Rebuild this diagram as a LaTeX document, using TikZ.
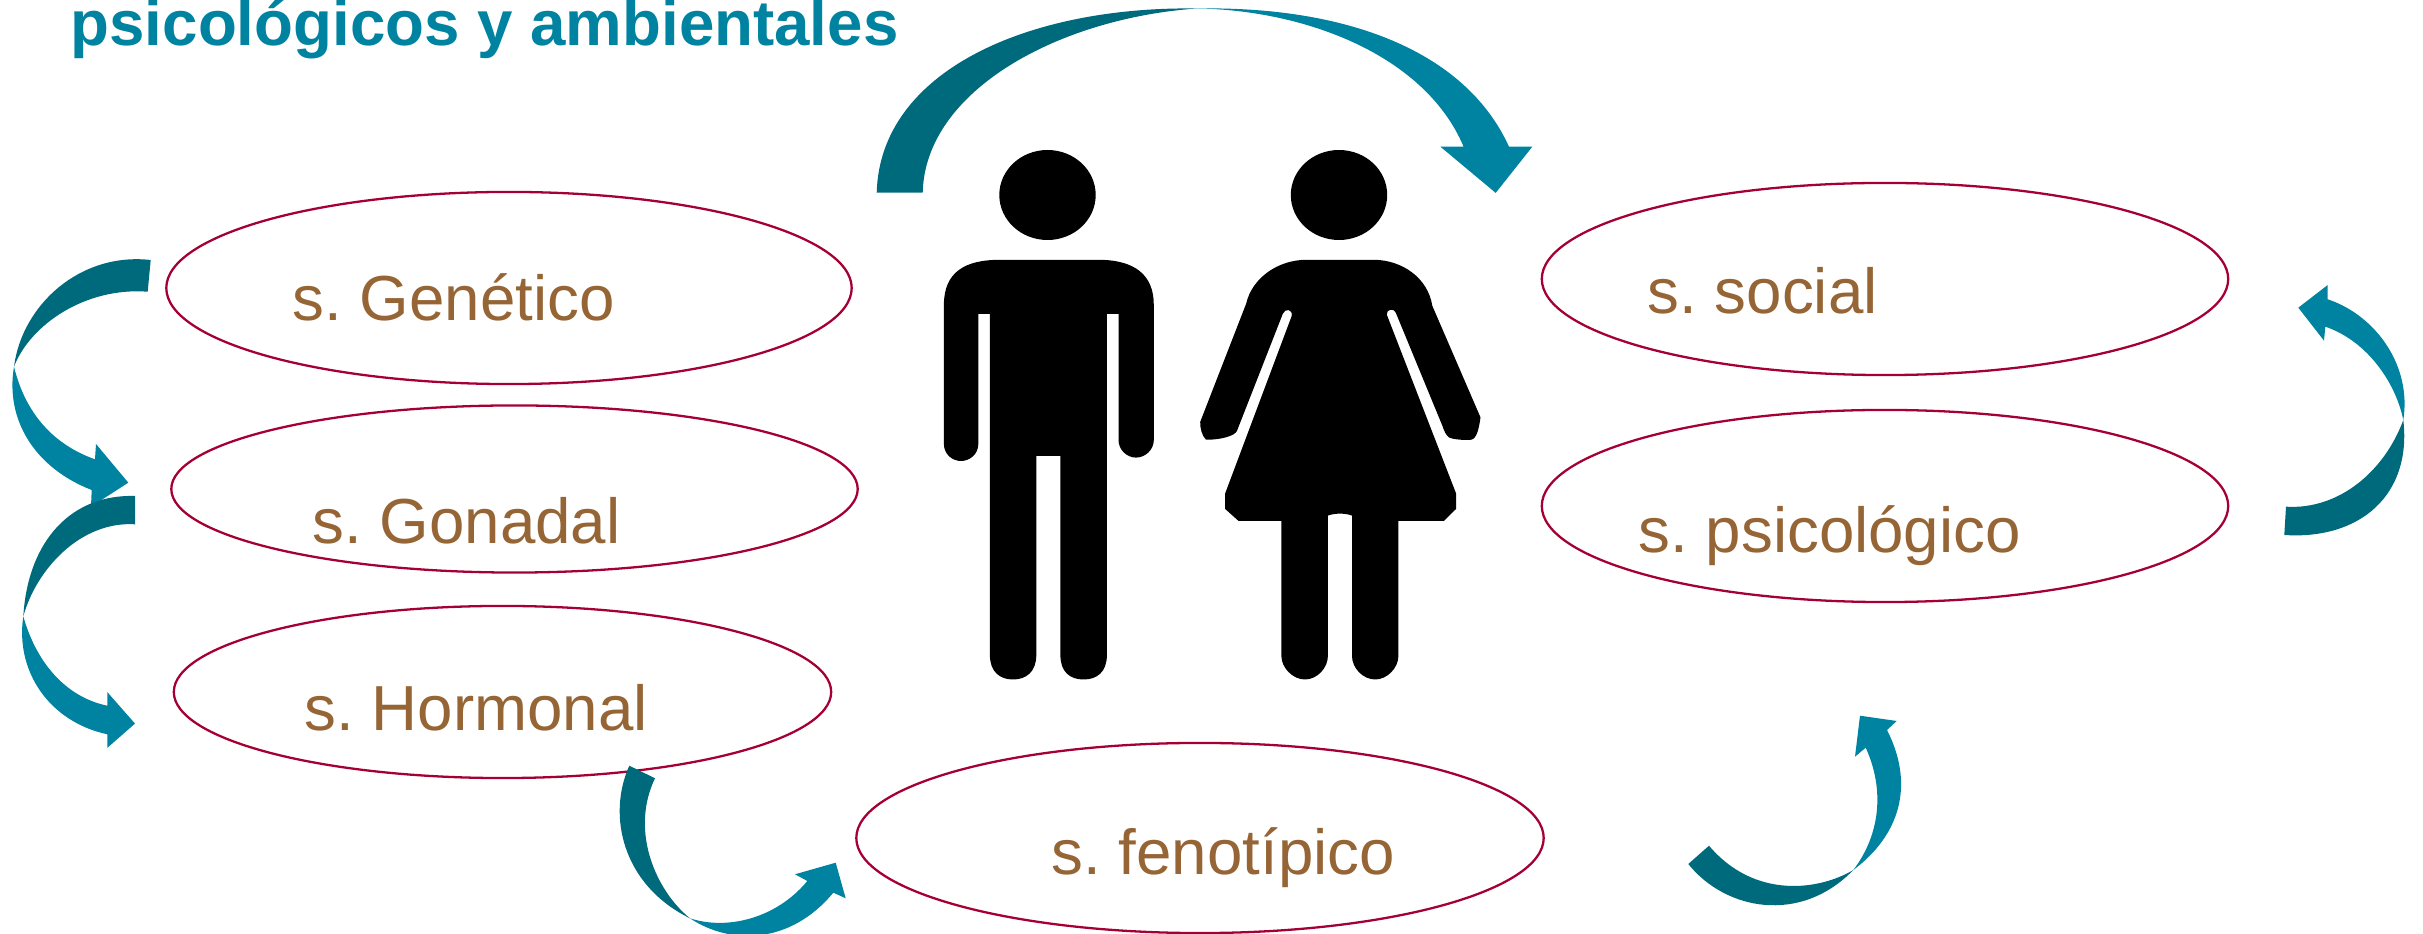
\documentclass[tikz,border=0pt]{standalone}
\usepackage{fontspec}
\setmainfont{Liberation Sans}
\usetikzlibrary{shapes.geometric}
\definecolor{darkteal}{HTML}{006A7D}
\definecolor{lightteal}{HTML}{0083A0}
\definecolor{ringred}{HTML}{A50034}
\definecolor{labelbrown}{HTML}{966536}
\frenchspacing

\begin{document}
\begin{tikzpicture}[
        x=0.01cm, y=-0.01cm,
        ring/.style={draw=ringred, line width=0.65pt, ellipse, inner sep=0pt, outer sep=0pt},
        label/.style={anchor=base west, inner sep=0pt, text=labelbrown, font=\fontsize{18.1}{22}\selectfont},
        dark/.style={fill=darkteal},
        light/.style={fill=lightteal}
    ]
        \useasboundingbox (0, 0) rectangle (2423, 934);
        \node[anchor=base west, inner sep=0pt, text=lightteal, font=\fontsize{18.1}{22}\selectfont\bfseries] (title) at (70, 46) {psicológicos y ambientales};

        \node[ring, minimum width=6.85cm, minimum height=1.92cm] (genetico) at (509, 288) {};
        \node[ring, minimum width=6.86cm, minimum height=1.67cm] (gonadal) at (514.5, 489) {};
        \node[ring, minimum width=6.57cm, minimum height=1.72cm] (hormonal) at (502.5, 692) {};
        \node[ring, minimum width=6.87cm, minimum height=1.90cm] (fenotipico) at (1200, 838) {};
        \node[ring, minimum width=6.86cm, minimum height=1.92cm] (social) at (1885, 279) {};
        \node[ring, minimum width=6.86cm, minimum height=1.92cm] (psicologico) at (1885, 506) {};

        \node[label] (lgenetico) at (292, 321) {s. Genético};
        \node[label] (lgonadal) at (312, 544) {s. Gonadal};
        \node[label] (lhormonal) at (304, 731) {s. Hormonal};
        \node[label] (lfenotipico) at (1051, 875) {s. fenotípico};
        \node[label] (lsocial) at (1647, 314) {s. social};
        \node[label] (lpsicologico) at (1638, 553) {s. psicológico};

        % man
        \fill (1047.5, 195) ellipse [x radius=48.2, y radius=45];
        \fill (943.9, 305) .. controls (943.9, 272) and (965, 259.8) .. (1000, 259.8) -- (1098, 259.8)
            .. controls (1135, 259.8) and (1153.8, 275) .. (1153.8, 305) -- (1153.8, 440)
            .. controls (1153.8, 450) and (1145, 457.6) .. (1136, 457.6)
            .. controls (1127, 457.6) and (1118.5, 450) .. (1118.5, 440)
            -- (1118.5, 313.8) -- (1106.9, 313.8) -- (1106.9, 655)
            .. controls (1106.9, 672) and (1097, 679.5) .. (1083.5, 679.5)
            .. controls (1070, 679.5) and (1060.4, 672) .. (1060.4, 655)
            -- (1060.4, 455.8) -- (1036.3, 455.8) -- (1036.3, 655)
            .. controls (1036.3, 672) and (1026, 679.5) .. (1013, 679.5)
            .. controls (1000, 679.5) and (989.9, 672) .. (989.9, 655)
            -- (989.9, 313.8) -- (978.3, 313.8) -- (978.3, 444)
            .. controls (978.3, 454) and (970, 461) .. (961, 461)
            .. controls (952, 461) and (943.9, 454) .. (943.9, 444) -- cycle;

        % woman
        \fill (1339, 195) ellipse [x radius=48.2, y radius=45];
        \fill (1246.2, 303.6) .. controls (1252, 278) and (1278, 259.8) .. (1306.4, 259.8) -- (1373.4, 259.8)
            .. controls (1402, 259.8) and (1428, 278) .. (1432.3, 305.8)
            -- (1480.5, 417.4) .. controls (1479, 428) and (1477, 438) .. (1471.6, 439.7)
            .. controls (1462, 440.5) and (1452, 439) .. (1449, 437.5)
            .. controls (1446, 435) and (1444, 431) .. (1442.6, 426.3)
            -- (1395.7, 312.5) .. controls (1394, 308) and (1386, 309) .. (1386.8, 314.7)
            -- (1456, 493.3) -- (1456, 509) -- (1443.9, 521) -- (1398.4, 521) -- (1398.4, 656)
            .. controls (1398.4, 668) and (1387, 679.5) .. (1375.2, 679.5)
            .. controls (1363, 679.5) and (1352, 668) .. (1352, 656)
            -- (1352, 515.6) .. controls (1345, 513) and (1335, 513) .. (1327.9, 515.6)
            -- (1327.9, 656) .. controls (1327.9, 668) and (1317, 679.5) .. (1305, 679.5)
            .. controls (1293, 679.5) and (1281.4, 668) .. (1281.4, 656)
            -- (1281.4, 521) -- (1238.6, 521) -- (1225.2, 509) -- (1225.2, 493.3)
            -- (1291.7, 316) .. controls (1293, 309) and (1285, 308) .. (1282.8, 313.8)
            -- (1237, 430.8) .. controls (1235, 436) and (1220, 440) .. (1206, 439.7)
            .. controls (1202, 436) and (1200, 428) .. (1200.2, 421.9) -- cycle;

        % top arrow
        \path[dark] (876.7, 192.7) .. controls (880, 70) and (1030, 6) .. (1197, 8.5)
            .. controls (1060, 18) and (925, 90) .. (922.7, 192.7) -- cycle;
        \path[light] (1197, 8.5) .. controls (1345, 6) and (1465, 50) .. (1509, 146.7)
            -- (1532.3, 146.7) -- (1495.7, 192.9) -- (1440.4, 146.7) -- (1463.6, 146.7)
            .. controls (1425, 55) and (1305, 10) .. (1197, 8.5) -- cycle;

        % left arrows
        \path[dark] (150.7, 260) .. controls (80, 252) and (22, 305) .. (14, 366.7)
            .. controls (30, 325) and (85, 287) .. (147.7, 291.7) -- cycle;
        \path[light] (14, 366.7) .. controls (5, 420) and (35, 468) .. (91.7, 490)
            -- (91, 506.7) -- (128.3, 482.7) -- (96, 444) -- (95, 459.3)
            .. controls (60, 447) and (27, 420) .. (14, 366.7) -- cycle;
        \path[dark] (135, 496) .. controls (72, 494) and (28, 540) .. (23.3, 616.4)
            .. controls (36, 570) and (80, 521) .. (135, 524.3) -- cycle;
        \path[light] (23.3, 616.4) .. controls (15, 672) and (50, 722) .. (107.3, 734.3)
            -- (107.3, 747.9) -- (135, 723.6) -- (107.3, 692.1) -- (107.3, 705.7)
            .. controls (70, 698) and (38, 668) .. (23.3, 616.4) -- cycle;

        % bottom arrows
        \path[dark] (629.3, 765.7) .. controls (607, 815) and (622, 885) .. (690, 918.3)
            .. controls (655, 890) and (630, 830) .. (655, 778.3) -- cycle;
        \path[light] (690, 918.3) .. controls (730, 945) and (790, 945) .. (833.3, 892.7)
            -- (845.7, 898.3) -- (835.7, 862.7) -- (795, 874.3) -- (807.3, 881)
            .. controls (775, 920) and (725, 930) .. (690, 918.3) -- cycle;
        \path[dark] (1688.3, 864) .. controls (1725, 910) and (1800, 925) .. (1853.3, 870)
            .. controls (1820, 890) and (1755, 900) .. (1709, 845.7) -- cycle;
        \path[light] (1853.3, 870) .. controls (1900, 835) and (1915, 785) .. (1887, 730)
            -- (1896.7, 721) -- (1860, 715.7) -- (1855, 756.7) -- (1865.7, 747.7)
            .. controls (1885, 790) and (1880, 835) .. (1853.3, 870) -- cycle;

        % right arrow
        \path[dark] (2284.3, 535) .. controls (2360, 540) and (2412, 495) .. (2403.3, 420)
            .. controls (2385, 470) and (2340, 510) .. (2286, 506.7) -- cycle;
        \path[light] (2403.3, 420) .. controls (2412, 365) and (2375, 315) .. (2327.7, 299.3)
            -- (2327.7, 285) -- (2298.3, 307.7) -- (2324, 340.7) -- (2325.3, 326.7)
            .. controls (2365, 340) and (2395, 380) .. (2403.3, 420) -- cycle;
    \end{tikzpicture}
\end{document}
